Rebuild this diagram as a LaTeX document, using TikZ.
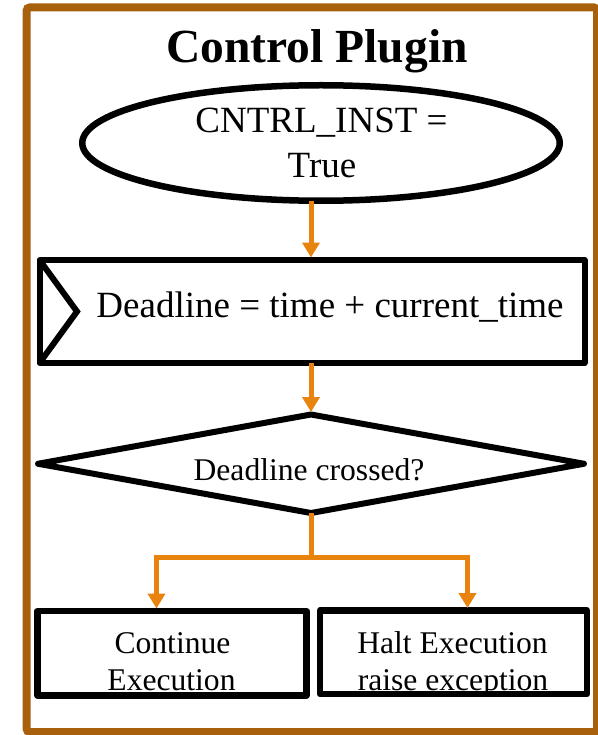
\documentclass[tikz,border=0pt]{standalone}
\usepackage{fontspec}
\setmainfont{Liberation Serif}
\usetikzlibrary{shapes.geometric,arrows.meta}
\definecolor{framebrown}{RGB}{168,96,12}
\definecolor{floworange}{RGB}{232,131,14}
\begin{document}
\begin{tikzpicture}[x=1pt,y=-1pt,
  shapeline/.style={draw=black,line width=6pt,inner sep=0pt,outer sep=0pt},
  flowline/.style={draw=floworange,line width=5pt},
  flow/.style={flowline,-{Triangle[width=17pt,length=15pt]},shorten >=2.5pt},
  bigtext/.style={inner sep=0pt,anchor=base,font=\fontsize{37}{45}\selectfont},
  midtext/.style={inner sep=0pt,anchor=base,font=\fontsize{31.6}{38}\selectfont},
  titletext/.style={inner sep=0pt,anchor=base,font=\fontsize{47.5}{56}\selectfont\bfseries}]
\useasboundingbox (0,0) rectangle (597,735);

% plugin frame
\draw[framebrown,line width=8pt,rounded corners=3pt] (26.7,7.5) rectangle (597,732);
\node[titletext] (title) at (317,63) {Control Plugin};

% start condition
\node[shapeline,ellipse,line width=6.5pt,minimum width=477.5pt,minimum height=115.5pt]
  (start) at (321,143) {};
\node[bigtext] (start1) at (321.5,133) {CNTRL\_INST =};
\node[bigtext] (start2) at (322,178) {True};

% deadline assignment
\node[shapeline,rectangle,line join=round,minimum width=545pt,minimum height=103pt]
  (proc) at (312,311.5) {};
\draw[black,line width=6pt] (proc.north west) -- ([xshift=37.5pt]proc.west) -- (proc.south west);
\node[bigtext] (proctext) at (330,317) {Deadline = time + current\_time};

% decision
\node[shapeline,diamond,line join=round,minimum width=546pt,minimum height=98.5pt]
  (dec) at (311,463.75) {};
\node[midtext] (dectext) at (309,480) {Deadline crossed?};

% outcomes
\node[shapeline,rectangle,line width=6.5pt,line join=round,minimum width=269pt,minimum height=84.5pt]
  (cont) at (172,653.25) {};
\node[midtext] (cont1) at (172.5,653) {Continue};
\node[midtext] (cont2) at (171.5,690) {Execution};

\node[shapeline,rectangle,line width=6.5pt,line join=round,minimum width=267pt,minimum height=83.5pt]
  (halt) at (453.5,652.25) {};
\node[midtext] (halt1) at (452.5,653) {Halt Execution};
\node[midtext] (halt2) at (453,690) {raise exception};

% connectors
\draw[flow] (dec.north |- start.south) -- (dec.north |- proc.north);
\draw[flow] (dec.north |- proc.south) -- (dec.north);
\coordinate (split) at (311,557);
\coordinate (leftturn) at (156.5,557);
\coordinate (rightturn) at (467.5,557);
\draw[flowline] (dec.south) -- (split);
\draw[flow] (split) -- (leftturn) -- (leftturn |- cont.north);
\draw[flow] (split) -- (rightturn) -- (rightturn |- halt.north);
\end{tikzpicture}
\end{document}
